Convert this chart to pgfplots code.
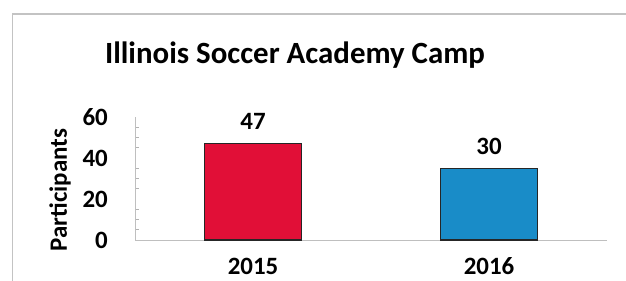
\documentclass[border=0pt]{standalone}
\usepackage{pgfplots}
\pgfplotsset{compat=1.18}
\usepackage{fontspec}
\setmainfont{Carlito}
\definecolor{barred}{RGB}{225,15,55}
\definecolor{barblue}{RGB}{25,140,200}
\definecolor{framegray}{RGB}{195,195,195}
\begin{document}
\begin{tikzpicture}
\clip (0,0) rectangle (626bp,-281bp);
\fill[white] (0,0) rectangle (626bp,-281bp);
\draw[framegray, line width=1.6bp] (12.5bp,-281bp) -- (12.5bp,-14bp) -- (626bp,-14bp);
\node[font=\fontsize{31}{33}\selectfont\bfseries, anchor=base, inner sep=0pt] at (295bp,-63bp) {Illinois Soccer Academy Camp};
\begin{axis}[
  at={(135bp,-240bp)}, anchor=south west,
  scale only axis, width=472bp, height=123bp,
  xmin=-0.5, xmax=1.5, ymin=0, ymax=60,
  ybar, bar width=97bp, bar shift=0pt,
  xtick={0,1}, xticklabels={2015,2016},
  ytick={0,20,40,60}, minor y tick num=3,
  axis x line*=bottom, axis y line*=left,
  axis line style={draw=black!25, line width=1bp},
  x axis line style={-}, y axis line style={-},
  tick align=inside,
  major tick length=0pt,
  minor tick length=4bp,
  minor tick style={black!30, line width=0.6bp},
  xtick style={draw=none},
  /pgf/number format/assume math mode=true,
  tick label style={font=\fontsize{25}{27}\selectfont\bfseries},
  yticklabel style={anchor=east, inner sep=0pt, xshift=-27bp},
  xticklabel style={anchor=base, inner sep=0pt, yshift=-34bp},
  ylabel={Participants},
  ylabel style={font=\fontsize{25}{27}\selectfont\bfseries, at={(axis description cs:-0.159,0.407)}, anchor=center, inner sep=0pt},
  point meta=explicit symbolic,
  nodes near coords,
  every node near coord/.append style={font=\fontsize{25}{27}\selectfont\bfseries, anchor=base, inner sep=0pt, yshift=14bp, black},
]
\addplot[fill=barred, draw=black!85, line width=1.2bp] coordinates {(0,47) [47]};
\addplot[fill=barblue, draw=black!85, line width=1.2bp] coordinates {(1,35) [30]};
\end{axis}
\end{tikzpicture}
\end{document}
